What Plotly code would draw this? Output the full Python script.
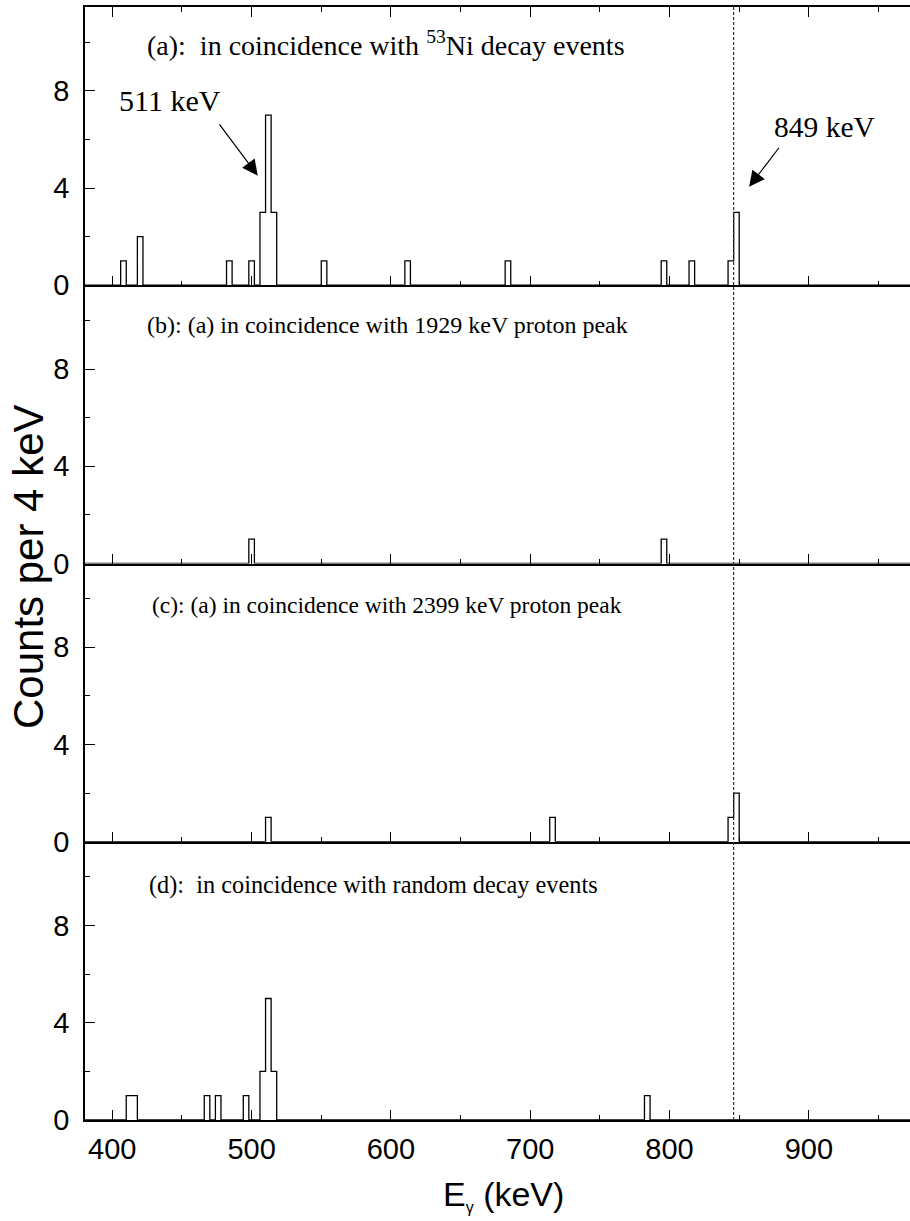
import numpy as np
import plotly.graph_objects as go

# ---- data (4 keV bins, left edges) ----
a_bins = [406, 418, 482, 498, 506, 510, 514, 550, 610, 682, 794, 814, 842, 846]
a_counts = [1, 2, 1, 1, 3, 7, 3, 1, 1, 1, 1, 1, 1, 3]
b_bins = [498, 794]
b_counts = [1, 1]
c_bins = [510, 714, 842, 846]
c_counts = [1, 1, 1, 2]
d_bins = [410, 414, 466, 474, 494, 506, 510, 514, 782]
d_counts = [1, 1, 1, 1, 1, 2, 5, 2, 1]

panel_labels = [
    "(a):  in coincidence with <sup>53</sup>Ni decay events",
    "(b): (a) in coincidence with 1929 keV proton peak",
    "(c): (a) in coincidence with 2399 keV proton peak",
    "(d):  in coincidence with random decay events",
]
line_energy = 846
bin_width = 4
x_range = [380.4, 972.6]
y_range = [0, 11.45]
y_ticks = [0, 4, 8]
x_ticks = [400, 500, 600, 700, 800, 900]

panels = [(a_bins, a_counts), (b_bins, b_counts), (c_bins, c_counts), (d_bins, d_counts)]

W, H = 910, 1221
ml, mr, mt, mb = 85, 0, 7, 101
pw, ph = W - ml - mr, H - mt - mb

def px_x(p):
    return (p - ml) / pw

def px_y(p):
    return (H - mb - p) / ph

edges = np.arange(378, 978, bin_width)

fig = go.Figure()
layout = dict(
    width=W, height=H,
    margin=dict(l=ml, r=mr, t=mt, b=mb),
    paper_bgcolor="white", plot_bgcolor="white",
    showlegend=False,
    font=dict(family="Liberation Sans, Arial", size=29, color="black"),
)

for i, (bins, counts) in enumerate(panels):
    hist = np.zeros(len(edges) - 1)
    for b, c in zip(bins, counts):
        k = int((b - edges[0]) // bin_width)
        hist[k] = c
    xs = edges
    ys = np.append(hist, hist[-1])
    n = "" if i == 0 else str(i + 1)
    fig.add_trace(go.Scatter(x=xs, y=ys, mode="lines", line=dict(color="black", width=1.3, shape="hv"),
                             xaxis="x" + n, yaxis="y" + n, hoverinfo="skip"))
    dom = [(3 - i) / 4, (4 - i) / 4]
    layout["xaxis" + n] = dict(
        domain=[0, 1], anchor="y" + n, range=x_range, showline=True, linecolor="black", linewidth=1.5,
        mirror="ticks" if i == 0 else False,
        ticks="inside", ticklen=10, tickwidth=1.3, tickcolor="black",
        tickvals=x_ticks, showticklabels=(i == 3), showgrid=False, zeroline=False,
        ticklabelstandoff=2,
        minor=dict(dtick=50, tick0=0, ticks="inside", ticklen=5, tickwidth=1.3, tickcolor="black", showgrid=False),
        tickfont=dict(size=29, family="Liberation Sans, Arial"),
        matches="x" if i > 0 else None,
    )
    layout["yaxis" + n] = dict(
        domain=dom, anchor="x" + n, range=y_range, showline=True, linecolor="black", linewidth=1.5,
        ticks="inside", ticklen=10, tickwidth=1.3, tickcolor="black",
        tickvals=y_ticks, showgrid=False, zeroline=False,
        ticklabelstandoff=8,
        minor=dict(dtick=2, tick0=0, ticks="inside", ticklen=5, tickwidth=1.3, tickcolor="black", showgrid=False),
        tickfont=dict(size=29, family="Liberation Sans, Arial"),
    )

fig.update_layout(**layout)

# dashed reference line
fig.add_shape(type="line", xref="x4", yref="paper", x0=line_energy, x1=line_energy, y0=0, y1=1,
              line=dict(color="#333333", width=1.2, dash="3px,2px"))

def serif(sz):
    return dict(family="Liberation Serif, Times New Roman", size=sz, color="black")

label_pos = [(145, 43, 28), (145, 325, 24), (150, 605, 23.5), (147, 885, 24.3)]
for txt, (lx, ly, sz) in zip(panel_labels, label_pos):
    fig.add_annotation(text=txt, xref="paper", yref="paper", x=px_x(lx), y=px_y(ly),
                       xanchor="left", yanchor="middle", showarrow=False, font=serif(sz))

fig.add_annotation(text="511 keV", xref="paper", yref="paper", x=px_x(170), y=px_y(100),
                   xanchor="center", yanchor="middle", showarrow=False, font=serif(30))
fig.add_annotation(text="849 keV", xref="paper", yref="paper", x=px_x(824), y=px_y(127),
                   xanchor="center", yanchor="middle", showarrow=False, font=serif(29.5))

# arrows (panel a)
fig.add_annotation(text="", x=504.4, y=4.51, xref="x", yref="y", ax=476.1, ay=6.68, axref="x", ayref="y",
                   showarrow=True, arrowhead=2, arrowsize=2.6, arrowwidth=1.2, arrowcolor="black")
fig.add_annotation(text="", x=857.1, y=4.05, xref="x", yref="y", ax=879.4, ay=5.72, axref="x", ayref="y",
                   showarrow=True, arrowhead=2, arrowsize=2.6, arrowwidth=1.2, arrowcolor="black")

# axis titles
fig.add_annotation(text="E<sub><span style='font-size:16px'>γ</span></sub> (keV)", xref="paper", yref="paper",
                   x=px_x(503), y=px_y(1195), xanchor="center", yanchor="middle", showarrow=False,
                   font=dict(family="Liberation Sans, Arial", size=34, color="black"))
fig.add_annotation(text="Counts per 4 keV", xref="paper", yref="paper", textangle=-90,
                   x=px_x(28), y=px_y(567), xanchor="center", yanchor="middle", showarrow=False,
                   font=dict(family="Liberation Sans, Arial", size=42, color="black"))

fig.write_html("out.html", config={"displayModeBar": False},
               post_script="document.body.style.margin='0px';")
